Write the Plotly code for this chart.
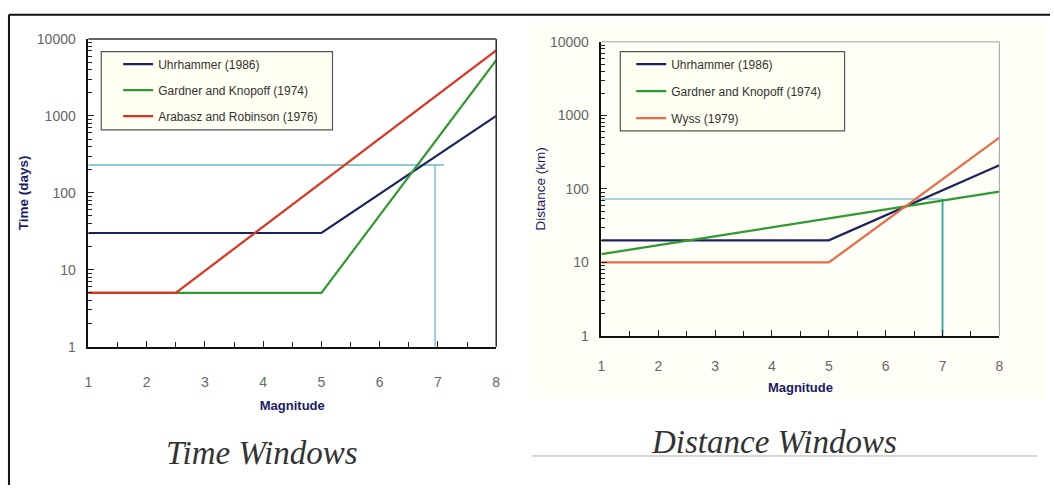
import plotly.graph_objects as go

# ---------------- data ----------------
# Time windows (left)
mag_uhr_t = [1, 5, 8]
time_uhr = [30, 30, 1000]
mag_gk_t = [1, 5, 8]
time_gk = [5, 5, 5300]
mag_ar_t = [1, 2.5, 8]
time_ar = [5, 5, 7100]
cross_t_h_x = [1, 7.1]
cross_t_h_y = [230, 230]
cross_t_v_x = [6.95, 6.95]
cross_t_v_y = [1, 230]

# Distance windows (right)
mag_uhr_d = [1, 5, 8]
dist_uhr = [20, 20, 210]
mag_gk_d = [1, 8]
dist_gk = [13, 92]
mag_wyss_d = [1, 5, 8]
dist_wyss = [10, 10, 500]
cross_d_h_x = [1, 7.0]
cross_d_h_y = [73, 73]
cross_d_v_x = [7.0, 7.0]
cross_d_v_y = [1, 73]

mag_ticks = [1, 2, 3, 4, 5, 6, 7, 8]
log_ticks = [1, 10, 100, 1000, 10000]
log_tick_text = ["1", "10", "100", "1000", "10000"]

left_names = ["Uhrhammer (1986)", "Gardner and Knopoff (1974)", "Arabasz and Robinson (1976)"]
right_names = ["Uhrhammer (1986)", "Gardner and Knopoff (1974)", "Wyss (1979)"]

# ---------------- styling ----------------
W, H = 1054, 493
NAVY = "#1c2260"
GREEN = "#2f9a2f"
RED_L = "#e0321e"
RED_R = "#eb6a45"
CYAN_L = "#6ab7c9"
CYAN_R_H = "#8cc9d3"
CYAN_R_V = "#2aa89e"
TITLE_NAVY = "#1a1a66"
SANS = "Liberation Sans, Arial, sans-serif"
SERIF = "Liberation Serif, Times New Roman, serif"


def px_x(p):
    return p / W


def px_y(p):
    return 1 - p / H


fig = go.Figure()

# left traces
fig.add_trace(go.Scatter(x=cross_t_h_x, y=cross_t_h_y, mode="lines", line=dict(color=CYAN_L, width=1.3),
                         showlegend=False, xaxis="x", yaxis="y", hoverinfo="skip"))
fig.add_trace(go.Scatter(x=cross_t_v_x, y=cross_t_v_y, mode="lines", line=dict(color=CYAN_L, width=1.3),
                         showlegend=False, xaxis="x", yaxis="y", hoverinfo="skip"))
for xs, ys, nm, col in [(mag_uhr_t, time_uhr, left_names[0], NAVY),
                        (mag_gk_t, time_gk, left_names[1], GREEN),
                        (mag_ar_t, time_ar, left_names[2], RED_L)]:
    fig.add_trace(go.Scatter(x=xs, y=ys, mode="lines", name=nm, line=dict(color=col, width=2.2),
                             xaxis="x", yaxis="y", legend="legend", legendgroup="L" + nm))

# right traces
fig.add_trace(go.Scatter(x=cross_d_h_x, y=cross_d_h_y, mode="lines", line=dict(color=CYAN_R_H, width=1.3),
                         showlegend=False, xaxis="x2", yaxis="y2", hoverinfo="skip"))
fig.add_trace(go.Scatter(x=cross_d_v_x, y=cross_d_v_y, mode="lines", line=dict(color=CYAN_R_V, width=1.8),
                         showlegend=False, xaxis="x2", yaxis="y2", hoverinfo="skip"))
for xs, ys, nm, col in [(mag_uhr_d, dist_uhr, right_names[0], NAVY),
                        (mag_gk_d, dist_gk, right_names[1], GREEN),
                        (mag_wyss_d, dist_wyss, right_names[2], RED_R)]:
    fig.add_trace(go.Scatter(x=xs, y=ys, mode="lines", name=nm, line=dict(color=col, width=2.2),
                             xaxis="x2", yaxis="y2", legend="legend2", legendgroup="R" + nm))

tickfont = dict(family=SANS, size=14, color="#666666")


def xaxis_cfg(dom, anchor, standoff_lbl, title_standoff):
    return dict(domain=dom, anchor=anchor, range=[1, 8], tickvals=mag_ticks,
                ticks="inside", ticklen=6, tickcolor="#222", tickwidth=1.2,
                minor=dict(ticks="inside", ticklen=5, dtick=0.5, tickcolor="#222", tickwidth=1.2, showgrid=False),
                showline=True, linecolor="#111", linewidth=1.6, showgrid=False, zeroline=False,
                tickfont=tickfont, ticklabelstandoff=standoff_lbl,
                title=dict(text="<b>Magnitude</b>", font=dict(family=SANS, size=13, color=TITLE_NAVY),
                           standoff=title_standoff))


def yaxis_cfg(dom, anchor, title, title_standoff):
    return dict(domain=dom, anchor=anchor, type="log", range=[0, 4], tickvals=log_ticks,
                ticktext=log_tick_text, ticks="inside", ticklen=6, tickcolor="#222", tickwidth=1.2,
                minor=dict(ticks="inside", ticklen=4, dtick="D1", tickcolor="#222", tickwidth=1, showgrid=False),
                showline=True, linecolor="#111", linewidth=1.6, showgrid=False, zeroline=False,
                tickfont=tickfont, ticklabelstandoff=8,
                title=dict(text=title, font=dict(family=SANS, size=13.5, color=TITLE_NAVY),
                           standoff=title_standoff))


L_X = [px_x(85), px_x(496)]
L_Y = [px_y(350), px_y(32)]
R_X = [px_x(602), px_x(1003)]
R_Y = [px_y(339), px_y(35)]

shapes = [
    # right panel cream background
    dict(type="rect", xref="paper", yref="paper", x0=px_x(528), x1=px_x(1048), y0=px_y(405), y1=px_y(14),
         fillcolor="#fffef7", line=dict(width=0), layer="below"),
    # outer border top and left
    dict(type="line", xref="paper", yref="paper", x0=px_x(5), x1=1, y0=px_y(7), y1=px_y(7),
         line=dict(color="#111", width=2)),
    dict(type="line", xref="paper", yref="paper", x0=px_x(5), x1=px_x(5), y0=px_y(7), y1=0,
         line=dict(color="#111", width=2)),
    # left frame top/right
    dict(type="line", xref="x domain", yref="y domain", x0=0, x1=1, y0=1, y1=1,
         line=dict(color="#333", width=1.6)),
    dict(type="line", xref="x domain", yref="y domain", x0=1, x1=1, y0=0, y1=1,
         line=dict(color="#333", width=1.6)),
    # right frame top/right
    dict(type="line", xref="x2 domain", yref="y2 domain", x0=0, x1=1, y0=1, y1=1,
         line=dict(color="#a0a0a0", width=1)),
    dict(type="line", xref="x2 domain", yref="y2 domain", x0=1, x1=1, y0=0, y1=1,
         line=dict(color="#a0a0a0", width=1)),
    # legend boxes
    dict(type="rect", xref="paper", yref="paper", x0=px_x(98), x1=px_x(331), y0=px_y(126), y1=px_y(45),
         fillcolor="#fffff2", line=dict(color="#555", width=1.2), layer="above"),
    dict(type="rect", xref="paper", yref="paper", x0=px_x(621), x1=px_x(847), y0=px_y(127), y1=px_y(45),
         fillcolor="#fffff2", line=dict(color="#555", width=1.2), layer="above"),
    # separator line under right caption
    dict(type="line", xref="paper", yref="paper", x0=px_x(532), x1=px_x(1041), y0=px_y(463), y1=px_y(463),
         line=dict(color="#b0b0b0", width=1)),
]

legend_font = dict(family=SANS, size=12, color="#333333")

fig.update_layout(
    width=W, height=H,
    margin=dict(l=0, r=0, t=0, b=0),
    paper_bgcolor="white",
    plot_bgcolor="rgba(0,0,0,0)",
    xaxis=xaxis_cfg(L_X, "y", 22, 12),
    yaxis=yaxis_cfg(L_Y, "x", "<b>Time (days)</b>", 5),
    xaxis2=xaxis_cfg(R_X, "y2", 16, 10),
    yaxis2=yaxis_cfg(R_Y, "x2", "Distance (km)", 1),
    legend=dict(x=px_x(115), y=px_y(43), xanchor="left", yanchor="top", bgcolor="rgba(0,0,0,0)",
                borderwidth=0, font=legend_font, tracegroupgap=7, itemwidth=30),
    legend2=dict(x=px_x(632), y=px_y(43), xanchor="left", yanchor="top", bgcolor="rgba(0,0,0,0)",
                 borderwidth=0, font=legend_font, tracegroupgap=8, itemwidth=30),
    shapes=shapes,
    annotations=[
        dict(text="<i>Time Windows</i>", xref="paper", yref="paper", x=px_x(260), y=px_y(460),
             xanchor="center", yanchor="middle",
             showarrow=False, font=dict(family=SERIF, size=33, color="#333")),
        dict(text="<i>Distance Windows</i>", xref="paper", yref="paper", x=px_x(776), y=px_y(449),
             xanchor="center", yanchor="middle",
             showarrow=False, font=dict(family=SERIF, size=33, color="#333")),
    ],
    showlegend=True,
)

fig.write_html("out.html", config={"displayModeBar": False},
               post_script="document.body.style.margin='0';document.body.style.overflow='hidden';")
